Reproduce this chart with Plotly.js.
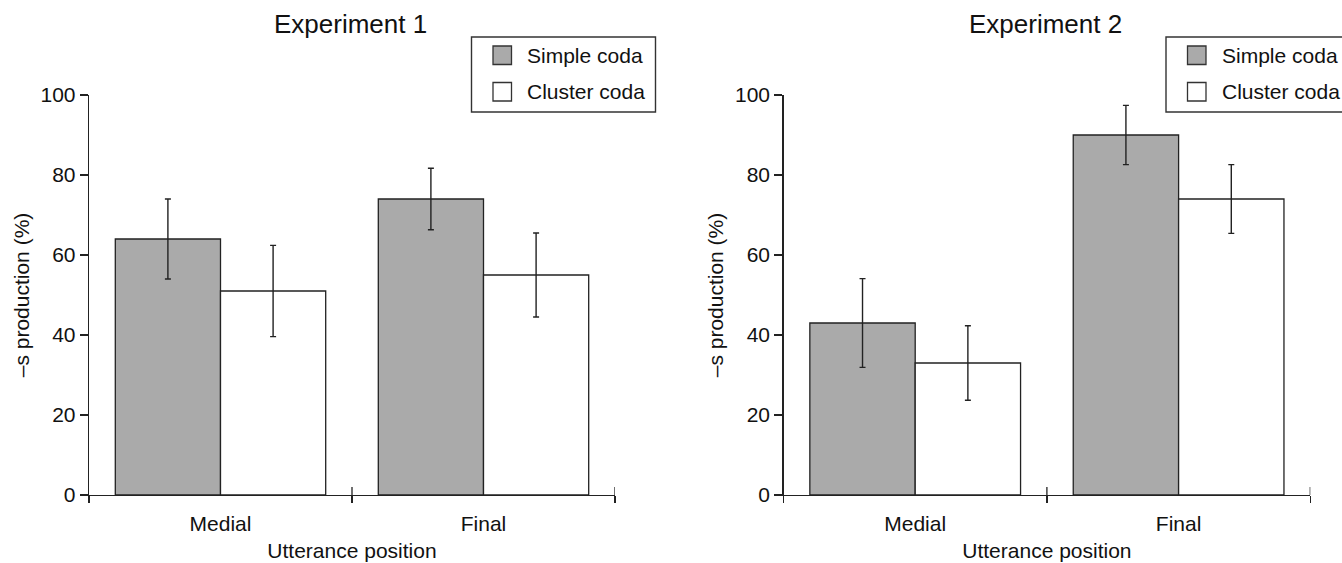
<!DOCTYPE html>
<html>
<head>
<meta charset="utf-8">
<script src="https://cdn.plot.ly/plotly-3.0.1.min.js"></script>
<style>html,body{margin:0;padding:0;background:#fff;}#chart{width:1342px;height:563px;}</style>
</head>
<body>
<div id="chart"></div>
<script>
// ---- data ----
const categories = ['Medial', 'Final'];
const seriesNames = ['Simple coda', 'Cluster coda'];
const panelTitles = ['Experiment 1', 'Experiment 2'];
const exp1Simple = [64, 74];
const exp1SimpleErr = [10, 7.7];
const exp1Cluster = [51, 55];
const exp1ClusterErr = [11.4, 10.5];
const exp2Simple = [43, 90];
const exp2SimpleErr = [11.1, 7.4];
const exp2Cluster = [33, 74];
const exp2ClusterErr = [9.3, 8.6];
const yTickVals = [0, 20, 40, 60, 80, 100];
const xAxisTitle = 'Utterance position';
const yAxisTitle = '\u2013s production (%)';

// ---- layout helpers ----
const W = 1342, H = 563, T = 95, B = 68;
const plotH = H - T - B;
const px = v => v / W;
const py = v => (H - B - v) / plotH;
const FONT = 'Arial, "Liberation Sans", Helvetica, sans-serif';
const INK = '#111';
const LINE = '#222';
const colors = ['#aaaaaa', '#ffffff'];

function barTrace(y, err, i, ax) {
  return {
    type: 'bar', x: categories, y: y, name: seriesNames[i],
    xaxis: 'x' + ax, yaxis: 'y' + ax, showlegend: false,
    marker: {color: colors[i], line: {color: LINE, width: 1.3}},
    error_y: {type: 'data', array: err, visible: true, color: LINE, thickness: 1.4, width: 3},
    hoverinfo: 'x+y'
  };
}
const data = [
  barTrace(exp1Simple, exp1SimpleErr, 0, ''),
  barTrace(exp1Cluster, exp1ClusterErr, 1, ''),
  barTrace(exp2Simple, exp2SimpleErr, 0, '2'),
  barTrace(exp2Cluster, exp2ClusterErr, 1, '2')
];

function xAxis(domain, anchor) {
  return {
    domain: domain, anchor: anchor, type: 'category', range: [-0.5, 1.5],
    showline: true, linecolor: LINE, linewidth: 1.3, mirror: false,
    ticks: 'outside', tickson: 'boundaries', ticklen: 7, tickwidth: 1.3, tickcolor: LINE,
    showgrid: false, zeroline: false, ticklabelstandoff: 9,
    tickfont: {family: FONT, size: 21, color: INK},
    title: {text: xAxisTitle, font: {family: FONT, size: 21, color: INK}, standoff: 9}
  };
}
function yAxis(anchor) {
  return {
    domain: [0, 1], anchor: anchor, range: [0, 100], tickvals: yTickVals,
    showline: true, linecolor: LINE, linewidth: 1.3,
    ticks: 'outside', ticklen: 8, tickwidth: 1.3, tickcolor: LINE,
    showgrid: false, zeroline: false,
    tickfont: {family: FONT, size: 21, color: INK},
    title: {text: yAxisTitle, font: {family: FONT, size: 21, color: INK}, standoff: 5}
  };
}

const xd1 = [px(89), px(615)];
const xd2 = [px(783.5), px(1310.3)];

// crossing upper halves of category boundary ticks
const shapes = [];
[['x', 'y'], ['x2', 'y2']].forEach(([xr, yr]) => {
  [0.5, 1.5].forEach(b => shapes.push({
    type: 'line', xref: xr, yref: yr, x0: b, x1: b, y0: 0, y1: 2,
    line: {color: LINE, width: 1.3}
  }));
});

// legends drawn as boxes in each panel
const annotations = [];
function legend(boxL, boxR, swL, txtL) {
  shapes.push({type: 'rect', xref: 'paper', yref: 'paper',
    x0: px(boxL), x1: px(boxR), y0: py(112), y1: py(37),
    line: {color: '#333', width: 1.4}, fillcolor: 'rgba(0,0,0,0)'});
  const rows = [[46, 64.5], [82.5, 101]];
  rows.forEach((r, i) => {
    shapes.push({type: 'rect', xref: 'paper', yref: 'paper',
      x0: px(swL), x1: px(swL + 18.5), y0: py(r[1]), y1: py(r[0]),
      line: {color: '#333', width: 1.3}, fillcolor: colors[i]});
    annotations.push({xref: 'paper', yref: 'paper', x: px(txtL), y: py((r[0] + r[1]) / 2),
      xanchor: 'left', yanchor: 'middle', showarrow: false, text: seriesNames[i],
      font: {family: FONT, size: 21, color: INK}});
  });
}
legend(471.5, 655.5, 493, 525);
legend(1166, 1352, 1187.5, 1219.5);

annotations.push({xref: 'paper', yref: 'paper', x: px(350.5), y: py(24), xanchor: 'center', yanchor: 'middle',
  showarrow: false, text: panelTitles[0], font: {family: FONT, size: 26, color: INK}});
annotations.push({xref: 'paper', yref: 'paper', x: px(1045.5), y: py(24), xanchor: 'center', yanchor: 'middle',
  showarrow: false, text: panelTitles[1], font: {family: FONT, size: 26, color: INK}});

const layout = {
  width: W, height: H,
  margin: {l: 0, r: 0, t: T, b: B, pad: 0},
  paper_bgcolor: '#fff', plot_bgcolor: '#fff',
  barmode: 'group', bargap: 0.2, bargroupgap: 0,
  showlegend: false,
  font: {family: FONT, size: 21, color: INK},
  xaxis: xAxis(xd1, 'y'), yaxis: yAxis('x'),
  xaxis2: xAxis(xd2, 'y2'), yaxis2: yAxis('x2'),
  shapes: shapes, annotations: annotations
};

Plotly.newPlot('chart', data, layout, {displayModeBar: false, staticPlot: true});
</script>
</body>
</html>
